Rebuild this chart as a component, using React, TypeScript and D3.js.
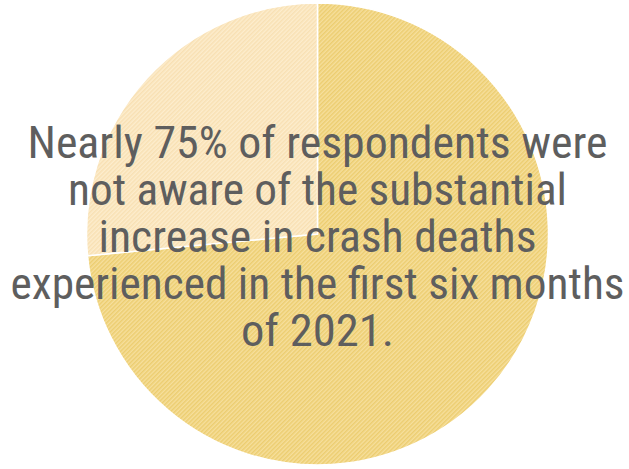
import React from "react";
import * as d3 from "d3";

const categories = ["Not aware", "Aware"];
const values = [73.5, 26.5];
const colors = ["#f6df9c", "#fdedcd"];
const hatch = ["#eccd70", "#f8e0b3"];
const lines = [
  "Nearly 75% of respondents were",
  "not aware of the substantial",
  "increase in crash deaths",
  "experienced in the first six months",
  "of 2021.",
];
const lineWidths = [580, 499, 438, 614, 153];

const W = 629;
const H = 469;

export default function App() {
  const cx = 317.5;
  const cy = 234;
  const r = 231;
  const pie = d3.pie<number>().sort(null).value((d) => d);
  const arcs = pie(values);
  const arc = d3.arc<d3.PieArcDatum<number>>().innerRadius(0).outerRadius(r);
  const y0 = 158;
  const dy = 47;
  return (
    <div style={{ position: "absolute", left: 0, top: 0 }}>
      <svg width={W} height={H} style={{ display: "block" }}>
        <defs>
          {colors.map((c, i) => (
            <pattern key={i} id={`pat${i}`} width={3} height={3} patternUnits="userSpaceOnUse" patternTransform="rotate(45)">
              <rect width={3} height={3} fill={c} />
              <line x1={0.75} y1={0} x2={0.75} y2={3} stroke={hatch[i]} strokeWidth={1.5} />
            </pattern>
          ))}
        </defs>
        <rect width={W} height={H} fill="#ffffff" />
        <g transform={`translate(${cx},${cy})`}>
          {arcs.map((a, i) => (
            <path key={categories[i]} d={arc(a) || ""} fill={`url(#pat${i})`} stroke="#ffffff" strokeWidth={1.5} />
          ))}
        </g>
        <g
          fontFamily="'Liberation Sans Narrow', 'Roboto Condensed', Roboto, sans-serif"
          fontSize={45}
          fill="#5e5e5e"
          textAnchor="middle"
        >
          {lines.map((t, i) => (
            <text
              key={i}
              x={cx}
              y={y0 + i * dy}
              textLength={lineWidths[i]}
              lengthAdjust="spacingAndGlyphs"
            >
              {t}
            </text>
          ))}
        </g>
      </svg>
    </div>
  );
}
